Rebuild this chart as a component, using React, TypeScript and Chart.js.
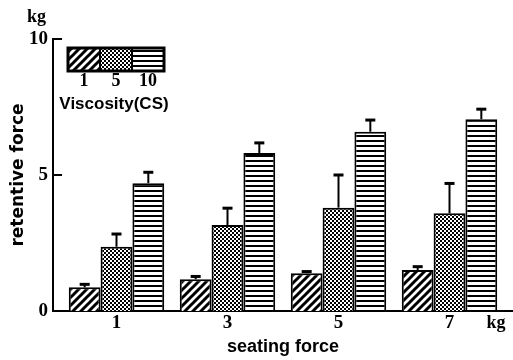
import React, { useEffect, useRef } from 'react';
import { Chart, registerables } from 'chart.js';

Chart.register(...registerables);

// ---- data ----
const seatingForce = [1, 3, 5, 7];
const viscosityLabels = ['1', '5', '10'];
const viscosity1 = [0.87, 1.17, 1.39, 1.51];
const viscosity5 = [2.36, 3.16, 3.8, 3.59];
const viscosity10 = [4.7, 5.81, 6.59, 7.05];
const sd1 = [0.11, 0.1, 0.06, 0.12];
const sd5 = [0.47, 0.62, 1.2, 1.1];
const sd10 = [0.4, 0.37, 0.43, 0.37];
const yTicks = [0, 5, 10];
const xUnitLabel = 'kg';
const yUnitLabel = 'kg';
const xTitle = 'seating force';
const yTitle = 'retentive force';
const legendTitle = 'Viscosity(CS)';

const X_MIN = -0.144;
const X_MAX = 8.144;

function makeTile(w: number, h: number, draw: (g: CanvasRenderingContext2D) => void) {
  const c = document.createElement('canvas');
  c.width = w;
  c.height = h;
  const g = c.getContext('2d')!;
  g.fillStyle = '#fff';
  g.fillRect(0, 0, w, h);
  draw(g);
  const ctx = document.createElement('canvas').getContext('2d')!;
  return ctx.createPattern(c, 'repeat')!;
}

function hatchPattern() {
  return makeTile(8, 8, (g) => {
    g.strokeStyle = '#000';
    g.lineWidth = 3;
    g.beginPath();
    g.moveTo(-2, 2); g.lineTo(2, -2);
    g.moveTo(-2, 10); g.lineTo(10, -2);
    g.moveTo(6, 10); g.lineTo(10, 6);
    g.stroke();
  });
}

function dotPattern() {
  return makeTile(4, 4, (g) => {
    g.fillStyle = '#000';
    g.fillRect(0, 0, 2, 2);
    g.fillRect(2, 2, 2, 2);
  });
}

function linePattern() {
  return makeTile(4, 5, (g) => {
    g.fillStyle = '#000';
    g.fillRect(0, 0, 4, 2);
  });
}

const serifBold = (size: number) => ({ family: '"Liberation Serif", serif', size, weight: 'bold' as const });

export default function App() {
  const ref = useRef<HTMLCanvasElement | null>(null);

  useEffect(() => {
    if (!ref.current) return;
    const values = [viscosity1, viscosity5, viscosity10];
    const errs = [sd1, sd5, sd10];
    const patterns = [hatchPattern(), dotPattern(), linePattern()];

    const extras = {
      id: 'extras',
      afterDatasetsDraw(chart: any) {
        const ctx = chart.ctx as CanvasRenderingContext2D;
        const ys = chart.scales.y;
        ctx.save();
        ctx.strokeStyle = '#000';
        values.forEach((vals, di) => {
          const meta = chart.getDatasetMeta(di);
          meta.data.forEach((bar: any, i: number) => {
            const yTop = ys.getPixelForValue(vals[i] + errs[di][i]);
            ctx.lineWidth = 2;
            ctx.beginPath();
            ctx.moveTo(bar.x, bar.y);
            ctx.lineTo(bar.x, yTop);
            ctx.stroke();
            ctx.lineWidth = 3;
            ctx.beginPath();
            ctx.moveTo(bar.x - 5, yTop);
            ctx.lineTo(bar.x + 5, yTop);
            ctx.stroke();
          });
        });
        ctx.restore();
      },
      afterDraw(chart: any) {
        const ctx = chart.ctx as CanvasRenderingContext2D;
        const ca = chart.chartArea;
        const ys = chart.scales.y;
        ctx.save();
        // inside ticks on y axis
        ctx.strokeStyle = '#000';
        ctx.lineWidth = 2;
        yTicks.slice(1).forEach((v) => {
          const py = ys.getPixelForValue(v);
          ctx.beginPath();
          ctx.moveTo(ca.left, py);
          ctx.lineTo(ca.left + 9, py);
          ctx.stroke();
        });
        // unit labels
        ctx.fillStyle = '#000';
        ctx.font = 'bold 18px "Liberation Serif", serif';
        ctx.textAlign = 'center';
        ctx.textBaseline = 'middle';
        ctx.fillText(yUnitLabel, ca.left - 16.5, ca.top - 22);
        ctx.fillText(xUnitLabel, ca.right - 17, ca.bottom + 12);
        // legend
        const x0 = ca.left + 15;
        const y0 = ca.top + 9;
        const cw = 32;
        const ch = 23;
        patterns.forEach((p, i) => {
          ctx.fillStyle = p as any;
          ctx.fillRect(x0 + i * cw, y0, cw, ch);
        });
        ctx.lineWidth = 3;
        ctx.strokeRect(x0, y0, cw * 3, ch);
        ctx.lineWidth = 2;
        ctx.beginPath();
        for (let i = 1; i < 3; i++) {
          ctx.moveTo(x0 + i * cw, y0);
          ctx.lineTo(x0 + i * cw, y0 + ch);
        }
        ctx.stroke();
        ctx.fillStyle = '#000';
        ctx.font = 'bold 18px "Liberation Serif", serif';
        viscosityLabels.forEach((l, i) => {
          ctx.fillText(l, x0 + i * cw + cw / 2, y0 + ch + 10);
        });
        ctx.font = 'bold 17px "Liberation Sans", sans-serif';
        ctx.fillText(legendTitle, x0 + (cw * 3) / 2 - 2, y0 + ch + 33);
        ctx.restore();
      },
    };

    const chart = new Chart(ref.current, {
      type: 'bar',
      data: {
        datasets: values.map((vals, di) => ({
          label: viscosityLabels[di],
          data: seatingForce.map((x, i) => ({ x, y: vals[i] })),
          backgroundColor: patterns[di] as any,
          borderColor: '#000',
          borderWidth: 2,
          categoryPercentage: 0.86,
          barPercentage: 1,
        })),
      },
      options: {
        responsive: false,
        animation: false,
        layout: { padding: { top: 39, left: 0, right: 0, bottom: 0 } },
        plugins: { legend: { display: false }, tooltip: { enabled: false } },
        scales: {
          x: {
            type: 'linear',
            min: X_MIN,
            max: X_MAX,
            offset: false,
            grid: { display: false, drawTicks: false },
            border: { display: true, color: '#000', width: 2 },
            afterBuildTicks: (s: any) => {
              s.ticks = seatingForce.map((v) => ({ value: v }));
            },
            afterFit: (s: any) => {
              s.height = 49;
            },
            ticks: {
              autoSkip: false,
              maxRotation: 0,
              padding: 1,
              color: '#000',
              font: serifBold(19),
              callback: (v: any) => String(v),
            },
            title: {
              display: true,
              text: xTitle,
              color: '#000',
              font: { family: '"Liberation Sans", sans-serif', size: 18, weight: 'bold' },
              padding: { top: 0, bottom: 2 },
            },
          },
          y: {
            min: 0,
            max: 10,
            grid: { display: false, drawTicks: false },
            border: { display: true, color: '#000', width: 2 },
            afterBuildTicks: (s: any) => {
              s.ticks = yTicks.map((v) => ({ value: v }));
            },
            afterFit: (s: any) => {
              s.width = 53;
            },
            ticks: {
              padding: 5,
              color: '#000',
              font: serifBold(19),
            },
            title: {
              display: true,
              text: yTitle,
              color: '#000',
              font: { family: '"DejaVu Sans", sans-serif', size: 17, weight: 'bold' },
              padding: { top: 8, bottom: 0 },
            },
          },
        },
      },
      plugins: [extras],
    });
    return () => chart.destroy();
  }, []);

  return (
    <div style={{ position: 'absolute', left: 0, top: 0, width: 513, height: 360, background: '#fff' }}>
      <canvas ref={ref} width={513} height={360} />
    </div>
  );
}
